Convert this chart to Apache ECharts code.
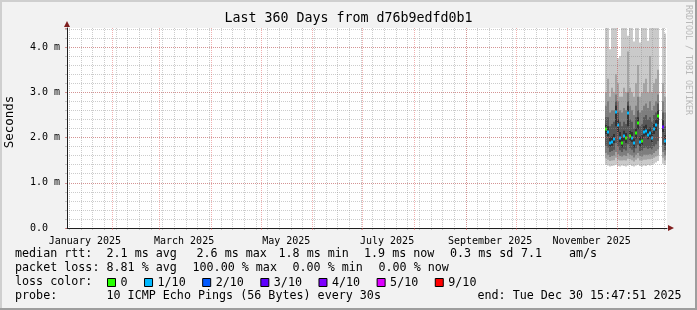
<!DOCTYPE html>
<html><head><meta charset="utf-8">
<script src="https://cdn.jsdelivr.net/npm/echarts@6/dist/echarts.min.js"></script>
<style>html,body{margin:0;padding:0;background:#f2f2f2}#c{width:697px;height:310px}</style>
</head><body><div id="c"></div><script>
// x values are days since 2025-01-01 00:00
const xStart = 3.658, xEnd = 363.658;
const monthStarts = [31,59,90,120,151,181,212,243,273,304,334];
const mondays = [5,12,19,26,33,40,47,54,61,68,75,82,89,96,103,110,117,124,131,138,145,152,159,166,173,180,187,194,201,208,215,222,229,236,243,250,257,264,271,278,285,292,299,306,313,320,327,334,341,348,355,362];
const monthLabelDays = [14.4, 73.9, 135.2, 195.7, 257.5, 318.4];
const monthLabels = ['January 2025','March 2025','May 2025','July 2025','September 2025','November 2025'];
const yTicks = [0,1,2,3,4];

// smoke columns (day, ping values in ms sorted low..high)
const colDays = [327.05,328.25,329.45,330.65,331.85,333.05,334.25,335.45,336.65,337.85,339.05,340.25,341.45,342.65,343.85,345.05,346.25,347.45,348.65,349.85,351.05,352.25,353.45,354.65,355.85,357.05,358.25,361.25,362.45];
const p1 = [1.40,1.38,1.36,1.37,1.38,1.40,1.37,1.36,1.38,1.37,1.36,1.38,1.39,1.37,1.36,1.38,1.40,1.37,1.36,1.38,1.37,1.39,1.38,1.40,1.42,1.45,1.48,1.42,1.40];
const p2 = [1.54,1.51,1.48,1.49,1.50,1.55,1.51,1.49,1.49,1.50,1.49,1.53,1.52,1.50,1.47,1.51,1.54,1.49,1.49,1.51,1.51,1.52,1.52,1.53,1.55,1.58,1.60,1.55,1.50];
const p3 = [1.66,1.62,1.57,1.59,1.60,1.68,1.63,1.59,1.58,1.61,1.59,1.65,1.62,1.60,1.56,1.62,1.66,1.59,1.58,1.62,1.62,1.62,1.63,1.62,1.66,1.70,1.74,1.68,1.60];
const p4 = [1.82,1.78,1.68,1.70,1.73,1.88,1.80,1.72,1.68,1.74,1.71,1.85,1.76,1.73,1.67,1.76,1.84,1.70,1.71,1.77,1.78,1.75,1.77,1.74,1.80,1.85,1.92,1.84,1.72];
const p5 = [2.08,2.03,1.80,1.82,1.88,2.25,2.12,1.90,1.78,1.93,1.88,2.25,1.93,1.90,1.78,1.98,2.18,1.80,1.84,2.02,2.05,1.96,2.00,1.90,2.08,2.15,2.30,2.12,1.83];
const p6 = [2.28,2.25,2.00,2.02,2.08,2.70,2.40,2.12,2.00,2.15,2.10,2.70,2.15,2.12,1.98,2.20,2.45,2.02,2.05,2.25,2.28,2.18,2.22,2.12,2.30,2.40,2.60,2.38,2.05];
const p7 = [2.45,2.45,2.25,2.30,2.35,2.80,2.55,2.35,2.25,2.35,2.30,2.80,2.40,2.35,2.20,2.45,2.60,2.25,2.30,2.45,2.50,2.40,2.45,2.35,2.50,2.55,2.75,2.55,2.25];
const p8 = [2.70,2.80,2.55,2.60,2.60,2.95,2.80,2.60,2.55,2.65,2.60,3.00,2.70,2.60,2.50,2.70,2.90,2.55,2.60,2.70,2.75,2.65,2.80,2.60,2.70,2.80,2.95,2.80,2.55];
const p9 = [3.0,3.3,2.9,3.1,3.0,3.4,3.2,2.9,2.9,3.1,3.0,3.9,3.1,3.0,2.9,3.2,3.6,2.9,3.0,3.2,3.3,3.0,3.8,3.0,3.2,3.3,3.5,3.2,2.9];
const p10 = [4.5,4.5,3.95,4.5,4.5,4.5,3.75,3.8,4.5,4.5,4.5,4.25,4.5,4.5,4.12,4.5,4.5,4.1,4.5,4.5,4.5,4.14,4.5,4.5,4.5,4.5,4.5,4.5,4.3];
const median = [2.18,2.13,1.88,1.90,1.96,2.57,2.27,2.00,1.87,2.03,1.98,2.55,2.03,2.00,1.87,2.09,2.32,1.90,1.93,2.12,2.15,2.06,2.10,2.00,2.18,2.27,2.47,2.24,1.92];
const lossClass = [0,1,1,1,1,1,1,1,0,1,0,1,0,1,1,0,0,1,0,1,1,1,1,1,1,1,0,3,1];
const lossNames = ['0','1/10','2/10','3/10','4/10','5/10','9/10'];
const lossColors = ['#26ff00','#00b8ff','#0059ff','#5e00ff','#7e00ff','#dd00ff','#ff0000'];

const colW = 1.2; // days per drawn column
const smokeColors = ['#cacaca','#a4a4a4','#7e7e7e','#585858','#323232'];

const smokeData = colDays.map((d,i)=>[d,p1[i],p2[i],p3[i],p4[i],p5[i],p6[i],p7[i],p8[i],p9[i],p10[i]]);

function smokeRender(params, api){
  const x = api.value(0);
  const v = []; for (let k=1;k<=10;k++) v.push(api.value(k));
  const children = [];
  for (let b=0;b<5;b++){
    const a = api.coord([x - colW/2, v[9-b]]);
    const c = api.coord([x + colW/2, v[b]]);
    const x0 = Math.round(a[0]), x1 = Math.round(c[0]);
    children.push({type:'rect', shape:{x:x0, y:a[1], width:x1-x0, height:c[1]-a[1]}, style:{fill:smokeColors[b]}});
  }
  return {type:'group', children};
}
function medRender(params, api){
  const x = api.value(0), m = api.value(1);
  const a = api.coord([x - colW/2, m]);
  const c = api.coord([x + colW/2, m]);
  const x0 = Math.round(a[0]), x1 = Math.round(c[0]);
  return {type:'rect', shape:{x:x0, y:Math.round(a[1])-1.5, width:x1-x0, height:3}, style:{fill:api.visual('color')}};
}

const series = [{
  type:'custom', name:'smoke', renderItem: smokeRender, data: smokeData, clip:true, z:1, silent:true,
  encode:{x:0, y:[1,10]}, xAxisIndex:0, yAxisIndex:0
}];
lossNames.forEach((nm,li)=>{
  const dd = [];
  colDays.forEach((d,i)=>{ if (lossClass[i]===li) dd.push([d, median[i]]); });
  series.push({type:'custom', name:nm, renderItem: medRender, data: dd, clip:true, z:1.5, silent:true,
    itemStyle:{color:lossColors[li]}, encode:{x:0,y:1}, xAxisIndex:0, yAxisIndex:0});
});

const MONO = "'DejaVu Sans Mono', monospace";
const gridCol = 'rgba(143,143,143,0.45)';
const mgridCol = 'rgba(222,79,79,0.45)';

const legendRows = [
  {y:253.6, parts:[[15,'median rtt:'],[106.5,'2.1 ms avg'],[196.5,'2.6 ms max'],[278.5,'1.8 ms min'],[364,'1.9 ms now'],[450,'0.3 ms sd'],[521,'7.1'],[569,'am/s']]},
  {y:267.6, parts:[[15,'packet loss:'],[106.5,'8.81 % avg'],[192.5,'100.00 % max'],[292.5,'0.00 % min'],[378.5,'0.00 % now']]},
  {y:281.6, parts:[[15,'loss color:']]},
  {y:295.6, parts:[[15,'probe:'],[106.5,'10 ICMP Echo Pings (56 Bytes) every 30s'],[477.5,'end: Tue Dec 30 15:47:51 2025']]}
];
const graphics = [];
legendRows.forEach(r=>r.parts.forEach(p=>graphics.push({type:'text', x:p[0], y:r.y, silent:true,
  style:{text:p[1], font:'11.7px '+MONO, fill:'#000', align:'left', verticalAlign:'middle'}})));
graphics.push({type:'text', x:348.5, y:18.5, style:{text:'Last 360 Days from d76b9edfd0b1', font:'13.3px '+MONO, fill:'#000', align:'center', verticalAlign:'middle'}});
graphics.push({type:'text', x:9.5, y:122, rotation:Math.PI/2, style:{text:'Seconds', font:'12.5px '+MONO, fill:'#000', align:'center', verticalAlign:'middle'}});
graphics.push({type:'text', x:688, y:60, rotation:-Math.PI/2, style:{text:'RRDTOOL / TOBI OETIKER', font:'8.3px '+MONO, fill:'#b8b8b8', align:'center', verticalAlign:'middle'}});
// frame shading
graphics.push({type:'rect', shape:{x:0,y:0,width:697,height:2}, style:{fill:'#cfcfcf'}, silent:true});
graphics.push({type:'rect', shape:{x:0,y:0,width:2,height:310}, style:{fill:'#cfcfcf'}, silent:true});
graphics.push({type:'rect', shape:{x:0,y:308,width:697,height:2}, style:{fill:'#9e9e9e'}, silent:true});
graphics.push({type:'rect', shape:{x:695,y:0,width:2,height:310}, style:{fill:'#9e9e9e'}, silent:true});
// axis arrows
graphics.push({type:'polygon', shape:{points:[[64,27],[70,27],[67,21]]}, style:{fill:'#801f1f'}, silent:true});
graphics.push({type:'polygon', shape:{points:[[668,225],[668,231],[674,228]]}, style:{fill:'#801f1f'}, silent:true});

const chart = echarts.init(document.getElementById('c'), null, {renderer:'canvas'});
chart.setOption({
  animation:false,
  backgroundColor:'#f2f2f2',
  grid:{left:67, right:30, top:28, bottom:82, show:true, backgroundColor:'#ffffff', borderWidth:0},
  legend:{data:lossNames, left:107, top:276.5, padding:0, itemWidth:8, itemHeight:8, itemGap:16.5, icon:'rect', selectedMode:false,
    itemStyle:{borderColor:'#000', borderWidth:1},
    textStyle:{fontFamily:MONO, fontSize:11.7, color:'#000'}},
  xAxis:[
    {type:'value', min:xStart, max:xEnd, position:'bottom', z:3,
     axisLine:{show:true, lineStyle:{color:'#1f1f1f', width:1}},
     axisTick:{show:true, customValues:monthStarts, length:2, lineStyle:{color:mgridCol}},
     axisLabel:{customValues:monthLabelDays, margin:8, fontFamily:MONO, fontSize:10, color:'#000',
       formatter:(v)=>{const i=monthLabelDays.indexOf(v); return i>=0?monthLabels[i]:'';}},
     splitLine:{show:true, lineStyle:{color:mgridCol, type:[1,1], width:1}}},
    {type:'value', min:xStart, max:xEnd, position:'bottom', z:2,
     axisLine:{show:false}, axisLabel:{show:false},
     axisTick:{show:true, customValues:mondays, length:2, lineStyle:{color:gridCol}},
     splitLine:{show:true, lineStyle:{color:gridCol, type:[1,1], width:1}}}
  ],
  yAxis:[
    {type:'value', min:0, max:4.42, interval:1, position:'left', z:3,
     axisLine:{show:true, lineStyle:{color:'#1f1f1f'}},
     axisTick:{show:true, length:2, lineStyle:{color:mgridCol}},
     axisLabel:{margin:7, fontFamily:MONO, fontSize:10, color:'#000',
       formatter:(v)=>{ if (yTicks.indexOf(v)<0) return ''; return v===0?'0.0\u00a0\u00a0':v.toFixed(1)+' m'; }},
     splitLine:{show:true, showMaxLine:false, showMinLine:false, lineStyle:{color:mgridCol, type:[1,1]}}},
    {type:'value', min:0, max:4.42, interval:0.2, position:'left', z:2,
     axisLine:{show:false}, axisLabel:{show:false},
     axisTick:{show:true, length:2, lineStyle:{color:gridCol}},
     splitLine:{show:true, showMaxLine:false, showMinLine:false, lineStyle:{color:gridCol, type:[1,1]}}}
  ],
  graphic: graphics,
  series: series
});
</script></body></html>
